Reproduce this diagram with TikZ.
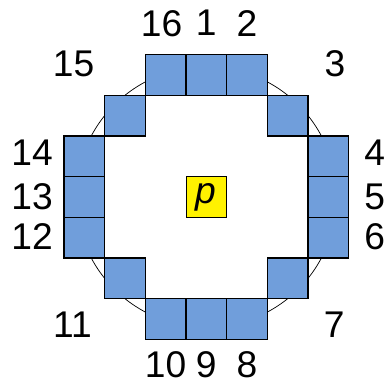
\documentclass[tikz,border=0pt]{standalone}
\usepackage{fontspec}
\setmainfont{Liberation Sans}
\definecolor{pixblue}{RGB}{112,158,219}
\tikzset{
  cell/.style={draw=black, line width=0.9pt, fill=pixblue, minimum size=1cm, inner sep=0pt},
  centre/.style={draw=black, line width=0.6pt, fill=yellow, minimum size=1cm, inner sep=0pt, font=\fontsize{26}{26}\selectfont\itshape},
  num/.style={font=\fontsize{26}{26}\selectfont, inner sep=0pt}
}
\begin{document}
\begin{tikzpicture}
		% Fix the frame of the picture
		\useasboundingbox (-5.07,-4.62) rectangle (4.39,4.84);
		
		% Centre pixel
		\coordinate (O) at (0,0);
		
		% The circle through the ring of pixels
		\draw[line width=0.5pt] (O) circle (3.2);
		
		% Ring of 16 pixels
		\node[cell] (c1) at (0,3) {};
		\node[cell] (c2) at (1,3) {};
		\node[cell] (c3) at (2,2) {};
		\node[cell] (c4) at (3,1) {};
		\node[cell] (c5) at (3,0) {};
		\node[cell] (c6) at (3,-1) {};
		\node[cell] (c7) at (2,-2) {};
		\node[cell] (c8) at (1,-3) {};
		\node[cell] (c9) at (0,-3) {};
		\node[cell] (c10) at (-1,-3) {};
		\node[cell] (c11) at (-2,-2) {};
		\node[cell] (c12) at (-3,-1) {};
		\node[cell] (c13) at (-3,0) {};
		\node[cell] (c14) at (-3,1) {};
		\node[cell] (c15) at (-2,2) {};
		\node[cell] (c16) at (-1,3) {};
		
		% Pixel under test
		\node[centre] (p) at (O) {p};
		
		% Labels
		\node[num] (l16) at (-1.1,4.27) {16};
		\node[num] (l1) at (0,4.27) {1};
		\node[num] (l2) at (1,4.27) {2};
		\node[num] (l3) at (3.16,3.28) {3};
		\node[num] (l4) at (4.14,1.08) {4};
		\node[num] (l5) at (4.14,0) {5};
		\node[num] (l6) at (4.14,-0.98) {6};
		\node[num] (l7) at (3.14,-3.14) {7};
		\node[num] (l8) at (1,-4.13) {8};
		\node[num] (l9) at (0,-4.13) {9};
		\node[num] (l10) at (-1,-4.13) {10};
		\node[num] (l11) at (-3.29,-3.14) {11};
		\node[num] (l12) at (-4.28,-0.98) {12};
		\node[num] (l13) at (-4.28,0) {13};
		\node[num] (l14) at (-4.28,1.08) {14};
		\node[num] (l15) at (-3.26,3.28) {15};
		
	\end{tikzpicture}
\end{document}
